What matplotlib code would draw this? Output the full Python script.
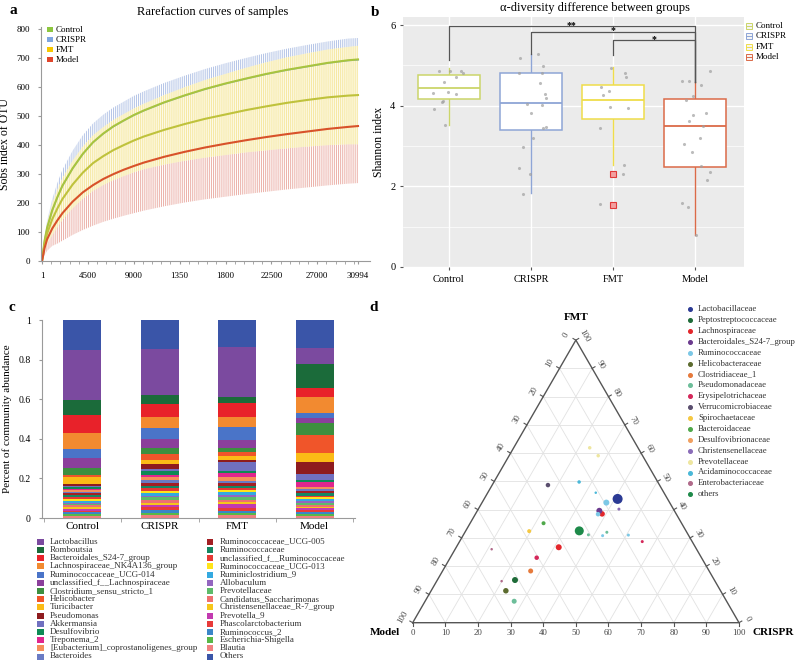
import numpy as np
import matplotlib
matplotlib.use("Agg")
import matplotlib.pyplot as plt
from matplotlib.patches import Rectangle
from matplotlib.lines import Line2D

plt.rcParams['font.family'] = ['Liberation Serif', 'DejaVu Serif']
plt.rcParams['hatch.linewidth'] = 0.7

W, H = 800, 669

# ---------------- data: a) rarefaction curves
depth = [1, 250, 500, 1000, 1500, 2000, 3000, 4000, 5000, 6000, 7000, 8000, 9000,
         10000, 12000, 14000, 16000, 18000, 20000, 22000, 24000, 26000, 28000, 30000, 30994]
control_mean = [0, 70, 115, 175, 220, 260, 320, 370, 410, 440, 465, 485, 504,
                520, 548, 572, 594, 613, 630, 646, 660, 672, 684, 693, 696]
crispr_mean = [0, 69, 114, 174, 219, 259, 319, 369, 409, 439, 464, 484, 503,
               519, 547, 571, 593, 612, 629, 645, 659, 671, 683, 692, 694]
crispr_sd = [0, 15, 25, 40, 50, 56, 62, 65, 66, 66, 66, 66, 67,
             67, 68, 69, 70, 71, 72, 73, 74, 75, 75, 76, 76]
fmt_mean = [0, 58, 95, 144, 181, 214, 264, 305, 338, 362, 383, 400, 416,
            430, 453, 473, 491, 506, 521, 534, 546, 556, 565, 571, 573]
fmt_sd = [0, 20, 35, 55, 65, 72, 82, 90, 96, 100, 104, 107, 110,
          113, 120, 127, 134, 140, 146, 152, 157, 161, 165, 168, 170]
model_mean = [0, 45, 75, 112, 140, 165, 205, 237, 262, 283, 300, 315, 328,
              340, 360, 377, 392, 405, 417, 428, 438, 447, 456, 463, 466]
model_sd = [0, 25, 40, 60, 80, 95, 115, 130, 140, 148, 154, 159, 163,
            166, 171, 175, 179, 183, 186, 189, 191, 193, 195, 196, 197]
rare_ticks = [1, 4500, 9000, 13500, 18000, 22500, 27000, 30994]
rare_ticklabels = ['1', '4500', '9000', '1350', '1800', '22500', '27000', '30994']

groups = ['Control', 'CRISPR', 'FMT', 'Model']

# ---------------- data: b) Shannon boxplots
box_q1 = [4.17, 3.40, 3.67, 2.47]
box_med = [4.43, 4.06, 4.14, 3.50]
box_q3 = [4.76, 4.82, 4.52, 4.16]
box_lo = [3.52, 1.84, 2.53, 0.79]
box_hi = [4.93, 5.29, 4.95, 4.60]
fmt_outliers = [2.30, 1.55]
ctrl_pts = [4.85, 4.87, 4.87, 4.82, 4.71, 4.58, 4.31, 4.33, 4.28, 4.12, 4.08, 3.91, 3.52]
ctrl_jit = [-0.12, 0.01, 0.15, 0.17, 0.09, -0.06, -0.19, -0.01, 0.09, -0.07, -0.09, -0.18, -0.05]
crispr_pts = [5.18, 5.29, 4.99, 4.81, 4.81, 4.56, 4.28, 4.19, 4.02, 4.04, 3.83, 3.48, 3.44,
              3.21, 2.97, 2.45, 2.31, 1.81]
crispr_jit = [-0.13, 0.09, 0.15, -0.15, 0.13, 0.11, 0.17, 0.18, 0.14, -0.05, 0.0, 0.18, 0.15,
              0.03, -0.09, -0.15, -0.01, -0.09]
fmt_pts = [4.93, 4.82, 4.72, 4.46, 4.37, 4.27, 3.98, 3.94, 3.44, 2.53, 2.31, 1.56]
fmt_jit = [-0.02, 0.15, 0.16, -0.14, -0.05, -0.12, -0.03, 0.18, -0.16, 0.13, 0.12, -0.16]
model_pts = [4.86, 4.62, 4.62, 4.52, 4.24, 4.14, 3.77, 3.83, 3.62, 3.50, 3.21, 3.05, 2.84,
             2.51, 2.35, 2.16, 1.58, 1.48, 0.79]
model_jit = [0.19, -0.16, -0.07, 0.07, -0.02, -0.11, -0.02, 0.14, -0.07, 0.10, 0.06, -0.13,
             -0.03, 0.07, 0.18, 0.15, -0.16, -0.08, 0.01]
# brackets: (left group, right group, height, drop bottom, label)
brackets = [(0, 3, 5.98, 5.14, '**'), (1, 3, 5.84, 5.29, '*'), (2, 3, 5.63, 5.26, '*')]

# ---------------- data: c) community barplot
taxa = ["Lactobacillus", "Romboutsia", "Bacteroidales_S24-7_group",
        "Lachnospiraceae_NK4A136_group", "Ruminococcaceae_UCG-014",
        "unclassified_f__Lachnospiraceae", "Clostridium_sensu_stricto_1", "Helicobacter",
        "Turicibacter", "Pseudomonas", "Akkermansia", "Desulfovibrio", "Treponema_2",
        "[Eubacterium]_coprostanoligenes_group", "Bacteroides",
        "Ruminococcaceae_UCG-005", "Ruminococcaceae", "unclassified_f__Ruminococcaceae",
        "Ruminococcaceae_UCG-013", "Ruminiclostridium_9", "Allobaculum", "Prevotellaceae",
        "Candidatus_Saccharimonas", "Christensenellaceae_R-7_group", "Prevotella_9",
        "Phascolarctobacterium", "Ruminococcus_2", "Escherichia-Shigella", "Blautia", "Others"]
taxa_colors = ["#7B4A9F", "#1B6B3A", "#E8222A", "#F28A30", "#4A74C8", "#8B3F9B", "#3D8F3F",
               "#F0552A", "#FBBB16", "#8E1B1E", "#7070C0", "#0E8A55", "#E0268E", "#F58F5A",
               "#6A7BC4", "#A31F24", "#148762", "#E53935", "#FFE41A", "#33A9E0", "#9366C0",
               "#5DBB6A", "#EE7070", "#F6C61A", "#C23AB0", "#E83A3A", "#3A86C8", "#58B847",
               "#F08080", "#3A55A8"]
abund_control = [0.252, 0.076, 0.092, 0.080, 0.047, 0.050, 0.036, 0.006, 0.037, 0.010,
                 0.006, 0.010, 0.004, 0.010, 0.008, 0.010, 0.008, 0.008, 0.010, 0.010,
                 0.006, 0.008, 0.010, 0.010, 0.008, 0.008, 0.010, 0.008, 0.010, 0.152]
abund_crispr = [0.231, 0.045, 0.068, 0.055, 0.056, 0.045, 0.030, 0.029, 0.022, 0.022,
                0.014, 0.016, 0.010, 0.018, 0.012, 0.016, 0.014, 0.012, 0.010, 0.014,
                0.008, 0.012, 0.016, 0.012, 0.010, 0.014, 0.016, 0.010, 0.015, 0.148]
abund_fmt = [0.249, 0.031, 0.070, 0.051, 0.067, 0.042, 0.017, 0.022, 0.020, 0.009,
             0.045, 0.012, 0.022, 0.016, 0.010, 0.018, 0.012, 0.010, 0.008, 0.014,
             0.010, 0.016, 0.010, 0.008, 0.025, 0.012, 0.010, 0.010, 0.016, 0.138]
abund_model = [0.079, 0.123, 0.045, 0.078, 0.028, 0.023, 0.062, 0.089, 0.049, 0.059,
               0.030, 0.012, 0.022, 0.012, 0.010, 0.012, 0.012, 0.008, 0.008, 0.010,
               0.008, 0.012, 0.008, 0.008, 0.008, 0.010, 0.010, 0.012, 0.010, 0.143]

# ---------------- data: d) ternary plot
families = ["Lactobacillaceae", "Peptostreptococcaceae", "Lachnospiraceae",
            "Bacteroidales_S24-7_group", "Ruminococcaceae", "Helicobacteraceae",
            "Clostridiaceae_1", "Pseudomonadaceae", "Erysipelotrichaceae",
            "Verrucomicrobiaceae", "Spirochaetaceae", "Bacteroidaceae", "Desulfovibrionaceae",
            "Christensenellaceae", "Prevotellaceae", "Acidaminococcaceae",
            "Enterobacteriaceae", "others"]
family_colors = ["#2B3A94", "#1E6B38", "#E3262B", "#6B3A8E", "#7CC8E6", "#5C6B2E", "#E67A3C",
                 "#6DBE9A", "#D4285A", "#5A4E6E", "#F5C842", "#4FA84A", "#F0A060", "#8A6CB8",
                 "#EEE6A0", "#4AB8D8", "#B06A8A", "#1E8A4A"]
tern_family = ["Lactobacillaceae", "others", "Lachnospiraceae", "Lachnospiraceae",
               "Bacteroidales_S24-7_group", "Ruminococcaceae", "Ruminococcaceae",
               "Peptostreptococcaceae", "Helicobacteraceae", "Pseudomonadaceae",
               "Clostridiaceae_1", "Erysipelotrichaceae", "Spirochaetaceae", "Bacteroidaceae",
               "Verrucomicrobiaceae", "Acidaminococcaceae", "Acidaminococcaceae",
               "Prevotellaceae", "Prevotellaceae", "Enterobacteriaceae", "Enterobacteriaceae",
               "Christensenellaceae", "Pseudomonadaceae", "Ruminococcaceae",
               "Pseudomonadaceae", "Ruminococcaceae", "Erysipelotrichaceae"]
tern_crispr = [40.9, 34.8, 31.4, 38.8, 37.4, 38.1, 37.6, 23.8, 22.9, 27.3, 27.0, 26.5, 19.5,
               22.5, 17.1, 26.1, 33.1, 23.3, 27.3, 11.2, 19.9, 43.1, 38.3, 42.8, 43.5, 50.6, 56.0]
tern_fmt = [43.8, 32.5, 26.7, 38.5, 39.6, 42.5, 38.4, 15.1, 11.3, 7.6, 18.3, 23.0, 32.4,
            35.2, 48.7, 49.8, 46.0, 61.9, 59.1, 26.0, 14.7, 40.2, 31.1, 30.8, 32.0, 31.0, 28.7]
tern_model = [15.3, 32.7, 41.9, 22.7, 23.0, 19.4, 24.0, 61.1, 65.8, 65.1, 54.7, 50.5, 48.1,
              42.3, 34.2, 24.1, 20.9, 14.8, 13.6, 62.8, 65.4, 16.7, 30.6, 26.4, 24.5, 18.4, 15.3]
tern_size = [10, 9, 6, 5.5, 6, 6, 4.5, 6, 5.5, 5, 5, 4.5, 4, 4, 4.5, 3.5, 2.5, 3.5, 3.5,
             2.5, 2.5, 3, 3, 3, 3, 3, 3]


def box(l, t, r, b):
    return [l / W, 1 - b / H, (r - l) / W, (b - t) / H]


def fxy(px, py):
    return px / W, 1 - py / H


fig = plt.figure(figsize=(8, 6.69), dpi=100)

# panel letters
for lab, (px, py) in zip('abcd', [(13, 10), (375, 12), (12, 307), (374, 307)]):
    fig.text(*fxy(px, py), lab, fontsize=11, fontweight='bold', ha='center', va='center')

# ================= a
axa = fig.add_axes(box(41, 27, 370, 261))
hatch = '||||||||'
axa.fill_between(depth, np.subtract(crispr_mean, crispr_sd), np.add(crispr_mean, crispr_sd),
                 facecolor='none', edgecolor='#B3C3E6', hatch=hatch, linewidth=0)
axa.fill_between(depth, np.subtract(model_mean, model_sd), np.add(model_mean, model_sd),
                 facecolor='none', edgecolor='#EBB0A8', hatch=hatch, linewidth=0)
axa.fill_between(depth, np.subtract(fmt_mean, fmt_sd), np.add(fmt_mean, fmt_sd),
                 facecolor='#FDFAE6', edgecolor='#F6E8A2', hatch=hatch, linewidth=0)
axa.plot(depth, crispr_mean, color='#8FB0DC', lw=1.0)
axa.plot(depth, control_mean, color='#A8C43E', lw=1.5)
axa.plot(depth, fmt_mean, color='#BFC23C', lw=1.5)
axa.plot(depth, model_mean, color='#D8522A', lw=1.5)
axa.set_xlim(-100, 32170)
axa.set_ylim(0, 808)
axa.set_xticks(rare_ticks)
axa.set_xticklabels(rare_ticklabels)
axa.set_xticks(np.arange(900, 31000, 900), minor=True)
axa.set_yticks(range(0, 801, 100))
for s in ['top', 'right']:
    axa.spines[s].set_visible(False)
for s in ['left', 'bottom']:
    axa.spines[s].set_color('#9A9A9A')
axa.tick_params(labelsize=6.5, length=2, color='#9A9A9A', pad=6)
axa.tick_params(which='minor', length=2, color='#9A9A9A')
axa.set_ylabel('Sobs index of OTU', fontsize=8.5, labelpad=4)
fig.text(*fxy(213, 12), 'Rarefaction curves of samples', fontsize=9, ha='center', va='center')

rare_colors = ['#8DC63F', '#7EA6E0', '#F7C800', '#E0452B']
for i, (g, c) in enumerate(zip(groups, rare_colors)):
    cy = 29.5 + 10 * i
    x0, y0 = fxy(47, cy + 2.8)
    fig.add_artist(Rectangle((x0, y0), 5.5 / W, 5.5 / H, transform=fig.transFigure,
                             facecolor=c, edgecolor='none'))
    fig.text(*fxy(56, cy), g, fontsize=6.5, va='center', ha='left')

# ================= b
axb = fig.add_axes(box(403, 17, 744, 267))
axb.set_facecolor('#EBEBEB')
box_cols = ['#CBD56A', '#8EA5D6', '#EFDD4A', '#DB6A48']
stats = []
for i in range(4):
    stats.append(dict(q1=box_q1[i], med=box_med[i], q3=box_q3[i], whislo=box_lo[i],
                      whishi=box_hi[i], fliers=fmt_outliers if i == 2 else []))
bp = axb.bxp(stats, positions=range(4), widths=0.75, patch_artist=True, showcaps=False,
             flierprops=dict(marker='s', markersize=4, markerfacecolor='#F2A0A0',
                             markeredgecolor='#E03A3A', markeredgewidth=0.8))
for i, c in enumerate(box_cols):
    bp['boxes'][i].set(facecolor='white', edgecolor=c, linewidth=1.1, zorder=2)
    bp['medians'][i].set(color=c, linewidth=1.3, zorder=3)
    for w in bp['whiskers'][2 * i:2 * i + 2]:
        w.set(color=c, linewidth=1.0, zorder=1.5)
for pts, jit, pos in [(ctrl_pts, ctrl_jit, 0), (crispr_pts, crispr_jit, 1),
                      (fmt_pts, fmt_jit, 2), (model_pts, model_jit, 3)]:
    axb.scatter(np.add(jit, pos), pts, s=5, color='#A0A0A0', alpha=0.7, linewidths=0, zorder=4)
for l, r, h, drop, lab in brackets:
    axb.plot([l, l, r, r], [drop, h, h, box_hi[r]], color='#555555', lw=0.9, zorder=5)
    axb.text((l + r) / 2, h + 0.02, lab, ha='center', va='center', fontsize=7, fontweight='bold')
axb.set_xlim(-0.56, 3.6)
axb.set_ylim(0, 6.2)
axb.set_xticks(range(4))
axb.set_xticklabels(groups)
axb.set_yticks([0, 2, 4, 6])
axb.set_yticks([1, 3, 5], minor=True)
axb.grid(True, which='major', color='white', lw=1.0)
axb.grid(True, which='minor', axis='y', color='white', lw=0.5)
axb.set_axisbelow(True)
for s in axb.spines.values():
    s.set_visible(False)
axb.tick_params(labelsize=7.5, length=2, color='#555555')
axb.tick_params(which='minor', length=0)
axb.set_ylabel('Shannon index', fontsize=8.5, labelpad=4)
fig.text(*fxy(595, 8), 'α-diversity difference between groups', fontsize=9, ha='center', va='center')
for i, (g, c) in enumerate(zip(groups, box_cols)):
    cy = 26 + 10.3 * i
    x0, y0 = fxy(746, cy + 3)
    fig.add_artist(Rectangle((x0, y0), 6 / W, 6 / H, transform=fig.transFigure,
                             facecolor='#F4F4F4', edgecolor=c, linewidth=0.7))
    fig.add_artist(Line2D([746 / W, 752 / W], [1 - cy / H] * 2, transform=fig.transFigure,
                          color=c, lw=0.7))
    fig.text(*fxy(756, cy), g, fontsize=6.5, va='center', ha='left')

# ================= c
axc = fig.add_axes(box(42, 320, 355, 518))
abund = np.array([abund_control, abund_crispr, abund_fmt, abund_model])
bottoms = np.zeros(4)
order = list(range(len(taxa) - 2, -1, -1)) + [len(taxa) - 1]
for k in order:
    axc.bar(range(4), abund[:, k], bottom=bottoms, width=0.49, color=taxa_colors[k],
            edgecolor='none')
    bottoms += abund[:, k]
axc.set_xlim(-0.52, 3.52)
axc.set_ylim(0, 1)
axc.set_yticks([0, 0.2, 0.4, 0.6, 0.8, 1])
axc.set_yticklabels(['0', '0.2', '0.4', '0.6', '0.8', '1'])
axc.set_xticks(range(4))
axc.set_xticklabels(groups)
axc.set_xticks([-0.5, 0.5, 1.5, 2.5, 3.5], minor=True)
for s in ['top', 'right']:
    axc.spines[s].set_visible(False)
for s in ['left', 'bottom']:
    axc.spines[s].set_color('#9A9A9A')
axc.tick_params(axis='x', which='major', length=0, labelsize=8, pad=3)
axc.tick_params(axis='x', which='minor', length=3, color='#9A9A9A')
axc.tick_params(axis='y', labelsize=7, length=2, color='#9A9A9A', pad=6)
axc.set_ylabel('Percent of community abundance', fontsize=8, labelpad=5)
for i, (name, c) in enumerate(zip(taxa, taxa_colors)):
    col, row = divmod(i, 15)
    cy = 541.7 + 8.2 * row
    sx = 37 + 170 * col
    x0, y0 = fxy(sx, cy + 3)
    fig.add_artist(Rectangle((x0, y0), 6.5 / W, 6 / H, transform=fig.transFigure,
                             facecolor=c, edgecolor='none'))
    fig.text(*fxy(sx + 13, cy), name, fontsize=6.5, va='center', ha='left', color='#333333')

# ================= d
u = 3.263  # px per ternary unit
axd = fig.add_axes([(412.7 - 12 * u) / W, (669 - 622.7 - 14 * u) / H, 124 * u / W, 114 * u / H])
axd.set_xlim(-12, 112)
axd.set_ylim(-14, 100)
axd.axis('off')
r3 = np.sqrt(3) / 2


def tern(c, f, m):
    t = c + f + m
    return 100 * (c + f / 2) / t, 100 * f * r3 / t


for v in range(10, 100, 10):
    # constant CRISPR, FMT, Model lines
    for a, b in [((v, 0, 100 - v), (v, 100 - v, 0)),
                 ((0, v, 100 - v), (100 - v, v, 0)),
                 ((0, 100 - v, v), (100 - v, 0, v))]:
        p, q = tern(*a), tern(*b)
        axd.plot([p[0], q[0]], [p[1], q[1]], color='#E2E2E2', lw=0.6, zorder=1)
axd.plot([0, 100, 50, 0], [0, 0, 100 * r3, 0], color='#555555', lw=1.0, zorder=2)
for v in range(0, 101, 10):
    # bottom (CRISPR)
    axd.plot([v, v], [0, -1.0], color='#555555', lw=0.8)
    axd.text(v, -3.2, str(v), ha='center', va='center', fontsize=6.3, color='#444444')
    # left (Model)
    px, py = (100 - v) / 2, (100 - v) * r3
    axd.plot([px, px - 1.0 * r3], [py, py + 0.5], color='#555555', lw=0.8)
    axd.text(px - 3.4 * r3, py + 1.7, str(v), ha='center', va='center', fontsize=6.3,
             rotation=60, color='#444444')
    # right (FMT)
    px, py = 100 - v / 2, v * r3
    axd.plot([px, px + 1.0 * r3], [py, py + 0.5], color='#555555', lw=0.8)
    axd.text(px + 3.0 * r3, py + 1.2, str(v), ha='center', va='center', fontsize=6.3,
             rotation=-60, color='#444444')
axd.text(50, 93.5, 'FMT', ha='center', va='center', fontsize=8, fontweight='bold')
axd.text(-4, -3.0, 'Model', ha='right', va='center', fontsize=8, fontweight='bold')
axd.text(104, -3.0, 'CRISPR', ha='left', va='center', fontsize=8, fontweight='bold')

fam_col = dict(zip(families, family_colors))
tx, ty = tern(np.array(tern_crispr), np.array(tern_fmt), np.array(tern_model))
axd.scatter(tx, ty, s=(np.array(tern_size) * 0.72) ** 2,
            c=[fam_col[f] for f in tern_family], linewidths=0, zorder=3)

for i, (name, c) in enumerate(zip(families, family_colors)):
    cy = 309.3 + 10.88 * i
    fig.add_artist(Line2D([690 / W], [1 - cy / H], transform=fig.transFigure, marker='o',
                          markersize=2.6, color=c, linestyle='none'))
    fig.text(*fxy(698, cy), name, fontsize=6.3, va='center', ha='left', color='#333333')

fig.savefig('out.png', dpi=100)
